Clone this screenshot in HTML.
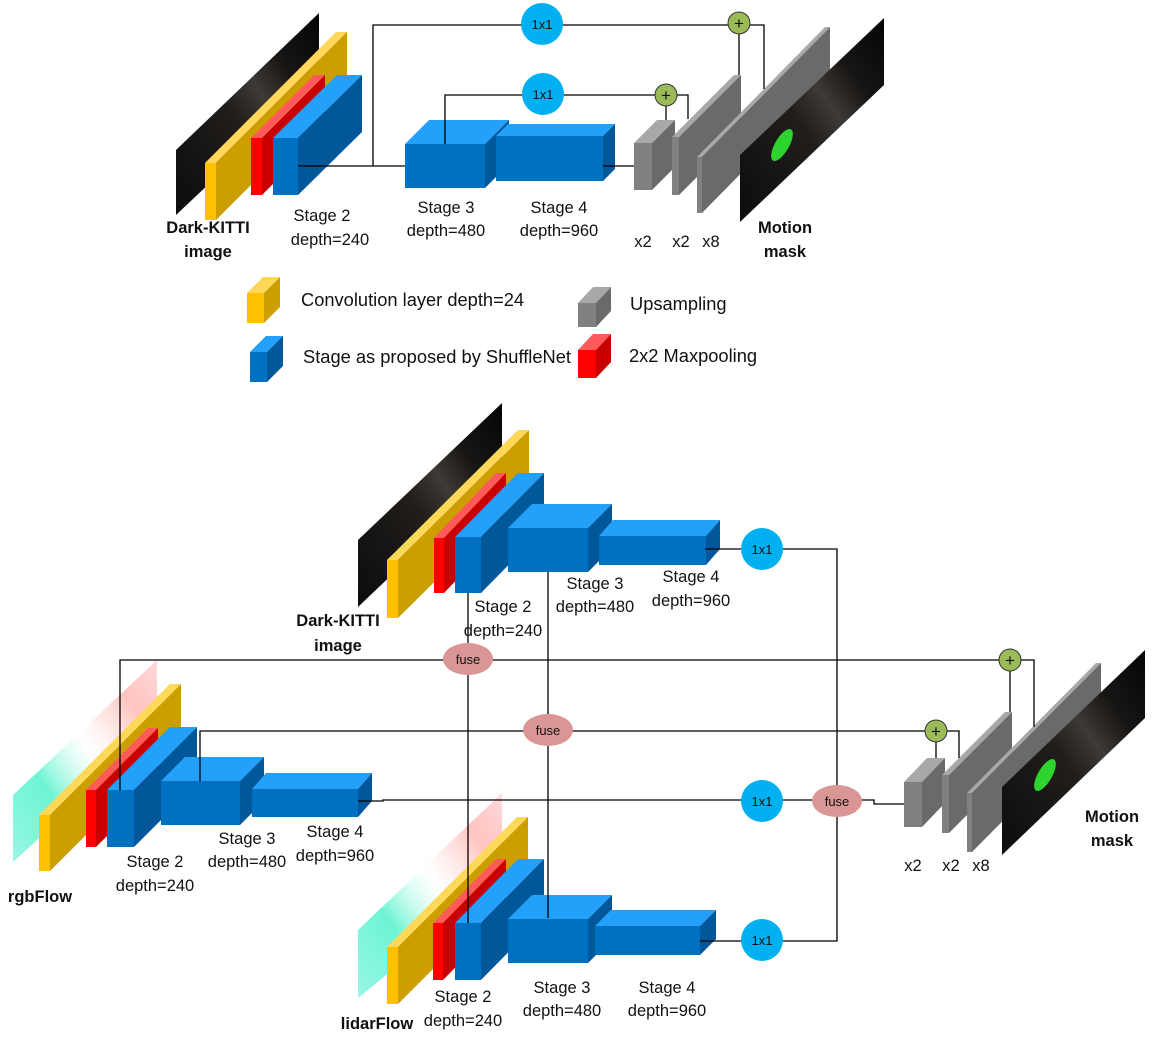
<!DOCTYPE html>
<html><head><meta charset="utf-8"><style>
html,body{margin:0;padding:0;background:#fff;}
svg{display:block;}
text{font-family:"Liberation Sans",sans-serif;font-size:16.5px;fill:#111;}
.b{font-weight:bold;}
.c{font-size:13px;}
.l{font-size:18.3px;}
</style></head><body>
<svg id="s" width="1157" height="1043" viewBox="0 0 1157 1043" xmlns="http://www.w3.org/2000/svg">
<defs>
<linearGradient id="dk" x1="0" y1="1" x2="1" y2="0">
<stop offset="0" stop-color="#0c0c0c"/><stop offset="0.45" stop-color="#211e1b"/><stop offset="0.6" stop-color="#3e3a36"/><stop offset="0.75" stop-color="#181614"/><stop offset="1" stop-color="#050505"/></linearGradient>
<linearGradient id="fl" x1="0" y1="1" x2="1" y2="0">
<stop offset="0" stop-color="#7ff5e0" stop-opacity="0.8"/><stop offset="0.3" stop-color="#30f0c0" stop-opacity="0.7"/><stop offset="0.55" stop-color="#ffffff" stop-opacity="0.3"/><stop offset="0.8" stop-color="#ff8a80" stop-opacity="0.5"/><stop offset="1" stop-color="#ffc0c8" stop-opacity="0.6"/></linearGradient>
</defs>
<g id="imgs">
<polygon points="176,150 319,13 319,80 176,215" fill="url(#dk)"/>
<polygon points="358,540 502,403 502,470 358,607" fill="url(#dk)"/>
<polygon points="13,795 157,660 157,730 13,862" fill="url(#fl)"/>
<polygon points="358,930 502,793 502,880 358,998" fill="url(#fl)"/>
</g>
<g id="boxes"></g>
<g>
<polygon points="740,155 884,18 884,85 740,222" fill="url(#dk)"/>
<ellipse cx="782" cy="145" rx="7" ry="18" fill="#2fd32f" transform="rotate(30 782 145)"/>
<polygon points="1002,787 1145,650 1145,718 1002,855" fill="url(#dk)"/>
<ellipse cx="1045" cy="775" rx="7" ry="18" fill="#2fd32f" transform="rotate(30 1045 775)"/>
</g>
<g fill="none" stroke="#000" stroke-width="1.3">
<polyline points="298,166 405,166"/>
<polyline points="373,166 373,25 739,25"/>
<polyline points="750,25 764,25 764,89"/>
<polyline points="739,34 739,75"/>
<polyline points="445,144 445,95 666,95"/>
<polyline points="677,95 688,95 688,119"/>
<polyline points="666,106 666,120"/>
<polyline points="603,166 634,166"/>
<polyline points="705,549 837,549 837,801"/>
<polyline points="700,941 837,941 837,801"/>
<polyline points="468,593 468,923"/>
<polyline points="548,572 548,918"/>
<polyline points="120,790 120,660 1010,660"/>
<polyline points="1021,660 1034,660 1034,727"/>
<polyline points="1010,671 1010,712"/>
<polyline points="200,781 200,731 936,731"/>
<polyline points="947,731 959,731 959,758"/>
<polyline points="936,742 936,758"/>
<polyline points="358,801 383,801 383,800 874,800 874,804 904,804"/>
</g>
<g>
<circle cx="542" cy="24" r="21" fill="#00B0F0"/><text x="542" y="29" text-anchor="middle" class="c">1x1</text>
<circle cx="543" cy="94" r="21" fill="#00B0F0"/><text x="543" y="99" text-anchor="middle" class="c">1x1</text>
<circle cx="762" cy="549" r="21" fill="#00B0F0"/><text x="762" y="554" text-anchor="middle" class="c">1x1</text>
<circle cx="762" cy="801" r="21" fill="#00B0F0"/><text x="762" y="806" text-anchor="middle" class="c">1x1</text>
<circle cx="762" cy="940" r="21" fill="#00B0F0"/><text x="762" y="945" text-anchor="middle" class="c">1x1</text>
<ellipse cx="468" cy="659" rx="25" ry="16" fill="#D99694"/><text x="468" y="664" text-anchor="middle" class="c">fuse</text>
<ellipse cx="548" cy="730" rx="25" ry="16" fill="#D99694"/><text x="548" y="735" text-anchor="middle" class="c">fuse</text>
<ellipse cx="837" cy="801" rx="25" ry="16" fill="#D99694"/><text x="837" y="806" text-anchor="middle" class="c">fuse</text>
<g stroke="#333" stroke-width="1" fill="#9BBB59">
<circle cx="739" cy="23" r="11"/><circle cx="666" cy="95" r="11"/><circle cx="1010" cy="660" r="11"/><circle cx="936" cy="731" r="11"/></g>
<text x="739" y="29" text-anchor="middle" style="font-size:17px">+</text>
<text x="666" y="101" text-anchor="middle" style="font-size:17px">+</text>
<text x="1010" y="666" text-anchor="middle" style="font-size:17px">+</text>
<text x="936" y="737" text-anchor="middle" style="font-size:17px">+</text>
</g>
<g text-anchor="middle">
<text x="208" y="233" class="b">Dark-KITTI</text><text x="208" y="257" class="b">image</text>
<text x="322" y="221">Stage 2</text><text x="330" y="245">depth=240</text>
<text x="446" y="213">Stage 3</text><text x="446" y="236">depth=480</text>
<text x="559" y="213">Stage 4</text><text x="559" y="236">depth=960</text>
<text x="643" y="247">x2</text><text x="681" y="247">x2</text><text x="711" y="247">x8</text>
<text x="785" y="233" class="b">Motion</text><text x="785" y="257" class="b">mask</text>
<text x="338" y="626" class="b">Dark-KITTI</text><text x="338" y="651" class="b">image</text>
<text x="503" y="612">Stage 2</text><text x="503" y="636">depth=240</text>
<text x="595" y="589">Stage 3</text><text x="595" y="612">depth=480</text>
<text x="691" y="582">Stage 4</text><text x="691" y="606">depth=960</text>
<text x="40" y="902" class="b">rgbFlow</text>
<text x="155" y="867">Stage 2</text><text x="155" y="891">depth=240</text>
<text x="247" y="844">Stage 3</text><text x="247" y="867">depth=480</text>
<text x="335" y="837">Stage 4</text><text x="335" y="861">depth=960</text>
<text x="1112" y="822" class="b">Motion</text><text x="1112" y="846" class="b">mask</text>
<text x="913" y="871">x2</text><text x="951" y="871">x2</text><text x="981" y="871">x8</text>
<text x="377" y="1029" class="b">lidarFlow</text>
<text x="463" y="1002">Stage 2</text><text x="463" y="1026">depth=240</text>
<text x="562" y="993">Stage 3</text><text x="562" y="1016">depth=480</text>
<text x="667" y="993">Stage 4</text><text x="667" y="1016">depth=960</text>
</g>
<g>
<text x="301" y="306" class="l">Convolution layer depth=24</text>
<text x="303" y="363" class="l">Stage as proposed by ShuffleNet</text>
<text x="630" y="310" class="l">Upsampling</text>
<text x="629" y="362" class="l">2x2 Maxpooling</text>
</g>
</svg>
<script>
var g=document.getElementById('boxes'),NS='http://www.w3.org/2000/svg';
var C={y:['#FFC000','#CC9E00','#FFD85A'],r:['#FF0000','#C80000','#FF5A5A'],b:['#0070C0','#00579A','#22A0FA'],g:['#808080','#6A6A6A','#A8A8A8']};
function P(pts,f){var p=document.createElementNS(NS,'polygon');p.setAttribute('points',pts.map(function(a){return a.join(',')}).join(' '));p.setAttribute('fill',f);g.appendChild(p);}
function box(x,y,w,h,dx,dy,c){c=C[c];
P([[x,y],[x+dx,y-dy],[x+w+dx,y-dy],[x+w,y]],c[2]);
P([[x+w,y],[x+w+dx,y-dy],[x+w+dx,y+h-dy],[x+w,y+h]],c[1]);
P([[x,y],[x+w,y],[x+w,y+h],[x,y+h]],c[0]);}
box(205,163,11,57,131,131,'y');box(251,138,11,57,63,63,'r');box(273,138,25,57,64,63,'b');
box(405,144,80,44,24,24,'b');box(496,136,107,45,12,12,'b');
box(634,143,18,47,23,23,'g');box(672,137,7,58,62,62,'g');box(697,157,5,56,128,130,'g');
box(247,293,17,30,16,16,'y');box(250,352,17,30,16,16,'b');box(578,303,18,24,15,16,'g');box(578,350,18,28,15,16,'r');
box(387,560,11,58,131,130,'y');box(434,538,10,55,62,65,'r');box(455,537,26,56,63,64,'b');
box(508,528,80,44,24,24,'b');box(599,536,107,29,14,16,'b');
box(39,815,11,56,131,131,'y');box(86,790,10,57,62,62,'r');box(107,790,27,57,63,63,'b');
box(161,781,79,44,24,24,'b');box(252,789,106,28,14,16,'b');
box(387,947,11,57,130,130,'y');box(433,923,10,57,63,64,'r');box(455,923,26,57,63,64,'b');
box(508,919,80,44,24,24,'b');box(595,926,105,29,16,16,'b');
box(904,782,18,45,23,24,'g');box(942,775,7,58,63,63,'g');box(967,793,5,59,129,130,'g');
</script>
</body></html>
